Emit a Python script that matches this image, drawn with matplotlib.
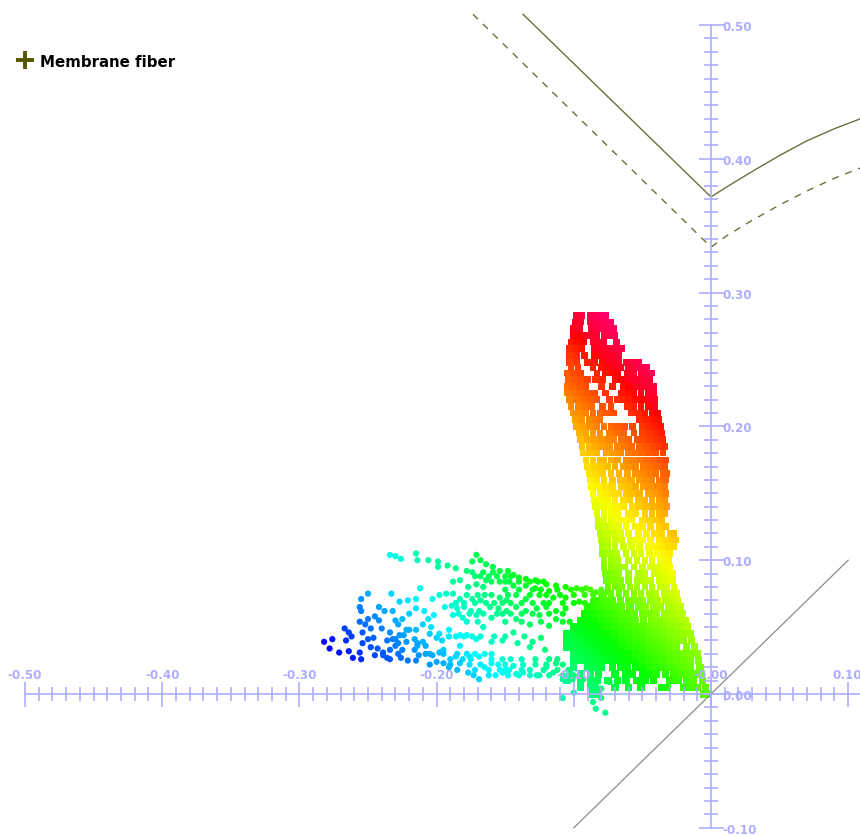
import numpy as np
import matplotlib
matplotlib.use("Agg")
import matplotlib.pyplot as plt
from matplotlib.lines import Line2D
from matplotlib.ticker import FixedLocator, NullFormatter
from matplotlib.transforms import ScaledTranslation

dense_rows = [
 (283,[-98,-94,-88,-84,-80,-77]),
 (278,[-99,-95,-88,-84,-80,-76,-73]),
 (273,[-100,-96,-87,-83,-79,-75,-71]),
 (268,[-100,-97,-92,-87,-83,-78,-74,-70]),
 (263,[-102,-98,-93,-86,-82,-78,-69]),
 (258,[-103,-99,-94,-85,-81,-77,-73,-69,-65]),
 (253,[-103,-98,-92,-85,-80,-76,-72,-67]),
 (248,[-103,-98,-90,-85,-79,-75,-71,-67,-62,-57,-53]),
 (244,[-102,-97,-86,-80,-76,-71,-66,-60,-55,-51,-47]),
 (240,[-105,-100,-95,-83,-77,-72,-68,-61,-56,-51,-47,-43]),
 (235,[-104,-100,-95,-90,-84,-79,-70,-65,-60,-55,-50,-45]),
 (230,[-105,-101,-96,-91,-80,-72,-64,-60,-55,-50,-46,-42]),
 (225,[-105,-100,-95,-90,-85,-77,-65,-60,-56,-51,-46,-42]),
 (220,[-103,-98,-93,-88,-83,-74,-68,-64,-60,-55,-50,-45,-41]),
 (215,[-102,-97,-92,-87,-79,-73,-61,-56,-51,-46,-41]),
 (210,[-100,-96,-91,-86,-81,-76,-71,-58,-53,-48,-43,-39]),
 (205,[-99,-94,-89,-84,-81,-52,-47,-42,-38]),
 (200,[-98,-93,-88,-83,-78,-73,-68,-63,-57,-50,-45,-41,-37]),
 (195,[-96,-91,-86,-81,-74,-69,-64,-56,-50,-45,-40,-36]),
 (190,[-95,-90,-85,-80,-75,-71,-65,-60,-54,-49,-44,-39,-35]),
 (185,[-94,-89,-84,-79,-74,-68,-63,-58,-52,-47,-42,-38,-34]),
 (180,[-93,-88,-83,-76,-71,-66,-60,-55,-50,-45,-40,-35]),
 (175,[-91,-86,-81,-78,-73,-68,-62,-57,-52,-47,-42,-37,-33]),
 (170,[-90,-85,-80,-75,-70,-64,-60,-55,-49,-44,-39,-34]),
 (165,[-89,-84,-79,-73,-67,-61,-55,-50,-45,-40,-35,-32]),
 (160,[-88,-83,-78,-72,-66,-63,-58,-52,-47,-43,-38,-33]),
 (155,[-87,-82,-77,-72,-65,-60,-55,-49,-44,-39,-34]),
 (150,[-86,-81,-76,-71,-67,-62,-57,-52,-46,-41,-36,-33]),
 (145,[-85,-80,-75,-70,-64,-59,-53,-48,-43,-38,-34]),
 (140,[-84,-79,-74,-69,-64,-57,-52,-47,-42,-37,-32]),
 (135,[-83,-78,-73,-68,-60,-55,-48,-43,-38,-34]),
 (130,[-82,-78,-73,-68,-63,-58,-50,-45,-40,-36]),
 (125,[-82,-77,-72,-67,-62,-55,-50,-44,-38,-33]),
 (120,[-81,-76,-71,-66,-60,-53,-47,-41,-36,-30,-27]),
 (115,[-80,-75,-70,-65,-59,-55,-50,-44,-38,-33,-28,-26]),
 (110,[-79,-75,-70,-64,-58,-52,-46,-41,-36,-31,-27]),
 (105,[-79,-74,-69,-62,-56,-51,-45,-39,-34,-30]),
 (100,[-78,-73,-68,-60,-54,-48,-43,-37,-33,-31]),
 (95,[-78,-73,-68,-63,-56,-50,-44,-39,-34,-30]),
 (90,[-77,-72,-67,-60,-53,-48,-41,-36,-31,-28]),
 (85,[-76,-71,-66,-60,-54,-49,-44,-38,-33,-28]),
 (80,[-75,-70,-65,-59,-54,-48,-43,-37,-32,-27]),
 (75,[-78,-73,-67,-62,-56,-51,-45,-40,-34,-29,-25]),
 (70,[-82,-77,-72,-66,-60,-55,-50,-44,-39,-33,-28,-24]),
 (65,[-90,-85,-80,-75,-70,-65,-59,-53,-48,-42,-37,-31,-26,-22]),
 (60,[-92,-87,-82,-77,-72,-67,-62,-56,-50,-45,-40,-34,-29,-24,-21]),
 (55,[-95,-90,-85,-80,-75,-70,-65,-60,-55,-49,-43,-38,-32,-27,-22,-19]),
 (50,[-100,-95,-90,-85,-80,-75,-70,-65,-60,-55,-50,-45,-40,-35,-30,-25,-20,-17]),
 (45,[-105,-100,-95,-90,-85,-80,-75,-70,-65,-60,-55,-50,-45,-40,-35,-30,-25,-20,-15]),
 (40,[-105,-100,-95,-90,-85,-80,-75,-70,-65,-60,-55,-50,-45,-40,-35,-30,-25,-20,-14]),
 (35,[-105,-100,-95,-90,-85,-80,-75,-70,-65,-60,-55,-50,-45,-40,-35,-30,-25,-18,-12]),
 (30,[-100,-95,-90,-85,-80,-75,-70,-65,-60,-55,-50,-45,-40,-35,-30,-25,-20,-15,-10]),
 (25,[-100,-95,-90,-85,-80,-75,-70,-65,-60,-55,-50,-45,-40,-35,-30,-25,-20,-15,-9]),
 (20,[-100,-90,-85,-80,-72,-66,-61,-55,-50,-45,-40,-35,-30,-25,-20,-15,-8]),
 (15,[-103,-95,-88,-82,-70,-62,-57,-50,-45,-40,-33,-27,-22,-17,-12,-7]),
 (10,[-105,-95,-88,-83,-75,-68,-62,-54,-48,-42,-30,-24,-18,-13,-6]),
 (5,[-95,-88,-84,-70,-60,-51,-36,-32,-20,-15,-10,-4]),
 (0,[-86,-82,-5,-2]),
]

wing_rows = [
 (88,[-172,-168,-162,-156,-150,-146]),
 (84,[-160,-150,-147,-140,-132,-126,-122]),
 (78,[-150,-140,-130,-124,-112,-102,-94,-88,-80]),
 (74,[-170,-165,-160,-148,-132,-120,-110,-100,-92,-86,-80]),
 (68,[-186,-180,-172,-164,-158,-152,-146,-138,-130,-122,-118,-108,-100,-92,-86]),
 (60,[-184,-176,-166,-156,-146,-138,-130,-118,-108]),
 (54,[-178,-170,-150,-138,-124,-108]),
 (43,[-186,-180,-174,-168,-150,-136]),
 (39,[-160,-130]),
 (30,[-205,-195,-185,-178,-172,-165,-160]),
 (26,[-190,-175,-160,-152,-146,-138,-128,-118,-112]),
 (22,[-205,-190,-176,-168,-155,-150,-137,-128,-120,-108]),
 (18,[-185,-172,-162,-154,-150,-138,-132,-122,-112,-104]),
 (14,[-173,-162,-148,-140,-125,-118,-108,-100]),
 (42,[-246]),
 (52,[-252,-228,-210]),
 (40,[-236,-196]),
 (38,[-228,-214]),
 (44,[-224]),
 (27,[-236,-226]),
 (36,[-214,-208]),
 (42,[-200]),
 (48,[-222]),
 (50,[-204]),
]

wing_x = [-282,-276,-278,-271,-264,-261,-255,-256,-267,-264,-266,-262,-254,-248,-250,-254,-248,-243,-239,-234,
 -228,-225,-245,-239,-234,-232,-227,-222,-230,-221,-215,-216,-213,-208,-203,-198,-250,-255,-256,-255,-256,-250,
 -245,-242,-242,-238,-233,-227,-221,-232,-230,-225,-220,-215,-215,-212,-209,-206,-202,-203,-198,-193,-194,-240,
 -234,-230,-220,-215,-216,-210,-205,-198,-191,-191,-183,-178,-183,-195,-200,-195,-191,-186,-181,-176,-169,-183,
 -177,-169,-165,-160,-157,-152,-147,-142,-137,-132,-127,-144,-171,-166,-158,-152,-144,-141,-132,-124,-121,-118,
 -234,-230,-226,-215,-214,-206,-199,-199,-192,-186,-171,-174,-168,-164,-159,-178,-174,-166,-159,-154,-148,-144,
 -140,-135,-128,-120,-113,-106,-98,-91,-84,-76,-183,-188,-177,-171,-166,-164,-154,-144,-135,-128,-118,-106,-96,
 -86,-188,-183,-178,-174,-168,-154,-149,-142,-135,-125,-115,-189,-185,-180,-175,-169,-161,-155,-149,-142,-135,
 -127,-120,-113,-106,-188,-181,-171,-160,-152,-142,-132,-125,-113,-103,-108,-100,-86,-80,-84,-77,-115,-108,-101,
 -93,-86,-80,-74,-120,-113]
wing_y = [39,41,34,31,32,27,26,31,49,46,40,43,46,49,41,38,35,34,31,33,
 30,33,29,29,26,41,44,39,36,25,25,33,29,30,29,31,75,71,65,62,54,56,
 58,55,65,62,75,69,70,62,55,56,60,64,71,79,62,56,59,71,74,75,65,49,
 46,41,48,48,41,39,45,45,48,43,44,44,36,33,24,23,20,28,26,28,28,23,
 16,11,20,23,14,16,18,15,16,14,14,21,41,50,43,40,46,38,35,42,33,51,
 104,103,101,105,100,100,99,95,96,94,104,99,100,97,95,92,91,91,91,92,92,89,
 87,86,85,82,81,80,79,79,76,76,85,84,80,82,80,85,84,81,81,79,77,72,69,
 70,75,71,74,71,70,72,70,74,71,74,72,66,64,65,62,62,65,64,62,65,62,
 64,65,62,64,59,57,59,57,60,56,52,59,56,54,-3,1,-6,-3,-11,-14,16,11,11,
 11,6,4,9,20,23]

tie_x = [-0.1, 0.1]
tie_y = [-0.1, 0.1]
boundary_x = [-0.137, 0.0, 0.0115, 0.03, 0.05, 0.07, 0.09, 0.1086]
boundary_y = [0.508, 0.3715, 0.379, 0.3905, 0.4025, 0.4135, 0.4225, 0.4298]
offset_x = [-0.1735, 0.0, 0.0115, 0.03, 0.05, 0.07, 0.09, 0.1086]
offset_y = [0.508, 0.334, 0.3425, 0.354, 0.3655, 0.376, 0.3855, 0.393]

major_x = [-0.5, -0.4, -0.3, -0.2, -0.1, 0.0, 0.1]
major_x_labels = ["-0.50", "-0.40", "-0.30", "-0.20", "-0.10", "-0.00", "0.10"]
major_y = [-0.1, 0.0, 0.1, 0.2, 0.3, 0.4, 0.5]
major_y_labels = ["-0.10", "0.00", "0.10", "0.20", "0.30", "0.40", "0.50"]
legend_label = "Membrane fiber"

AXIS = "#ADADFF"
OLIVE = "#6E6E3C"

dense_x = np.array([v for _, row in dense_rows for v in row]) / 1000
dense_y = np.array([y for y, row in dense_rows for _ in row]) / 1000
wx = np.array(wing_x + [v for _, row in wing_rows for v in row]) / 1000
wy = np.array(wing_y + [y for y, row in wing_rows for _ in row]) / 1000


def hue(x, y):
    return ((0.172 - (x + y)) * 1.625) % 1.0


fig = plt.figure(figsize=(8.6, 8.37), dpi=100, facecolor="white")
ax = fig.add_axes([0, 0, 1, 1])
ax.set_xlim(-711 / 1372, 149 / 1372)
ax.set_ylim(-142 / 1338, 695 / 1338)
ax.set_axisbelow(False)

upper = dense_y >= 0.07
ax.scatter(dense_x[upper], dense_y[upper], c=hue(dense_x[upper], dense_y[upper]), cmap="hsv", vmin=0, vmax=1,
           s=23, marker="s", linewidths=0, zorder=1)
ax.scatter(dense_x[~upper], dense_y[~upper], c=hue(dense_x[~upper], dense_y[~upper]), cmap="hsv", vmin=0, vmax=1,
           s=28, marker="s", linewidths=0, zorder=1)
ax.scatter(wx, wy, c=hue(wx, wy), cmap="hsv", vmin=0, vmax=1,
           s=20, marker="o", linewidths=0, zorder=1)

ax.plot(tie_x, tie_y, color="#8C8C8C", lw=0.9, zorder=1.5)
ax.plot(boundary_x, boundary_y, color=OLIVE, lw=1.0, zorder=1.5)
ax.plot(offset_x, offset_y, color=OLIVE, lw=1.0, ls=(0, (5, 5)), zorder=1.5)

for name in ("left", "bottom"):
    ax.spines[name].set_visible(False)
ax.spines["top"].set_position(("data", 0))
ax.spines["right"].set_position(("data", 0))
ax.spines["top"].set_color(AXIS)
ax.spines["right"].set_color(AXIS)
ax.spines["top"].set_linewidth(1.2)
ax.spines["right"].set_linewidth(1.2)
ax.spines["top"].set_bounds(-0.5, 149 / 1372)
ax.spines["right"].set_bounds(-0.1, 0.5)

ax.xaxis.tick_top()
ax.yaxis.tick_right()
ax.set_xticks(major_x, major_x_labels)
ax.set_yticks(major_y, major_y_labels)
ax.xaxis.set_minor_locator(FixedLocator(np.arange(-50, 11) / 100))
ax.yaxis.set_minor_locator(FixedLocator(np.arange(-10, 51) / 100))
ax.xaxis.set_minor_formatter(NullFormatter())
ax.yaxis.set_minor_formatter(NullFormatter())
ax.tick_params(which="major", direction="inout", length=18, width=1.2, color=AXIS,
               labelcolor=AXIS, labelsize=8.6)
ax.tick_params(which="minor", direction="inout", length=9.4, width=1.2, color=AXIS)
ax.tick_params(axis="x", which="major", pad=0)
ax.tick_params(axis="y", which="major", pad=-0.5)
for lab in ax.get_xticklabels() + ax.get_yticklabels():
    lab.set_fontweight("bold")
last = ax.get_xticklabels()[-1]
last.set_transform(last.get_transform() + ScaledTranslation(-1 / 72, 0, fig.dpi_scale_trans))

handle = Line2D([], [], linestyle="none", marker="+", color="#555500", markersize=13, markeredgewidth=2.8)
leg = ax.legend([handle], [legend_label], loc="upper left", bbox_to_anchor=(0.006, 0.949), frameon=False,
                prop={"weight": "bold", "size": 10.8}, handlelength=1.0, handletextpad=0.5, borderaxespad=0.4)

fig.savefig("out.png", dpi=100)
